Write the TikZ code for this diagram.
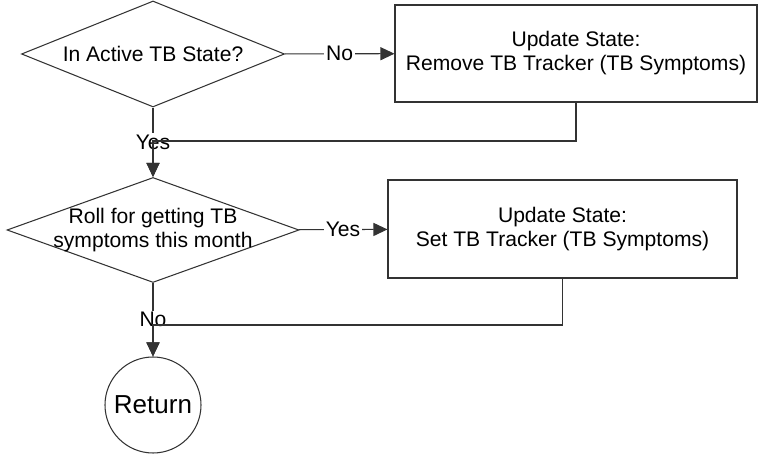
\documentclass[tikz,border=0pt]{standalone}
\usepackage{fontspec}
\setmainfont{Liberation Sans}
\usetikzlibrary{shapes.geometric,arrows.meta}

\begin{document}
\begin{tikzpicture}[
  line/.style = {draw = black!80, line width = 0.6pt},
  arr/.style = {line, -{Triangle[length = 0.28cm, width = 0.26cm]}},
  lbl/.style = {fill = white, inner sep = 1pt},
  decision/.style = {line, diamond, inner sep = 0pt, aspect = 2.5},
  stepbox/.style = {line, rectangle, align = center}
]
\useasboundingbox (0,0) rectangle (15.16,9.10);
\fontsize{12pt}{13.7pt}\selectfont

% decisions
\node[decision, minimum width = 5.26cm, minimum height = 2.12cm] (dia1) at (3.06,8.02) {In Active TB State?};
\node[decision, minimum width = 5.84cm, minimum height = 2.10cm] (dia2) at (3.06,4.50) {};
\node[align = center] (q2) at (dia2.center) {Roll for getting TB\\symptoms this month};

% state updates
\node[stepbox, minimum width = 7.24cm, minimum height = 1.94cm] (box1) at (11.52,8.03) {Update State:\\Remove TB Tracker (TB Symptoms)};
\node[stepbox, minimum width = 6.98cm, minimum height = 1.96cm] (box2) at (11.25,4.52) {Update State:\\Set TB Tracker (TB Symptoms)};

% end
\node[line, circle, minimum size = 1.92cm, inner sep = 0pt, font = \fontsize{14.8pt}{16pt}\selectfont] (ret) at (3.06,1.00) {Return};

\coordinate (j1) at (3.06,6.28);
\coordinate (j2) at (3.06,2.60);

\draw[arr] (dia1) -- node[lbl] {No} (box1);
\draw[arr] (dia1) -- node[lbl] {Yes} (dia2);
\draw[arr] (box1.south) |- (j1) -- (dia2.north);

\draw[arr] (dia2) -- node[lbl] {Yes} (box2);
\draw[arr] (dia2) -- node[lbl] {No} (ret);
\draw[arr] (box2.south) |- (j2) -- (ret.north);
\end{tikzpicture}
\end{document}
